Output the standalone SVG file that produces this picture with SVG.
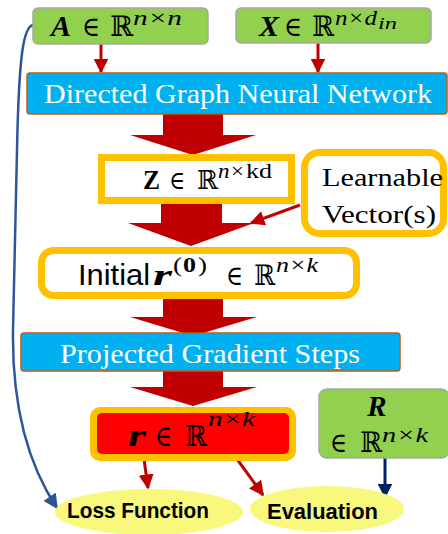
<svg xmlns="http://www.w3.org/2000/svg" width="448" height="534" viewBox="0 0 448 534">
  <defs>
    <style>
      .green { fill: #92D050; stroke: #A6A6A6; stroke-width: 1.5; }
      .blue { fill: #00B0F0; stroke: #C55A11; stroke-width: 1.5; }
      .gold { fill: #FFFFFF; stroke: #FFC000; stroke-width: 7; }
      .math { font-family: "Liberation Serif", "DejaVu Serif", serif; fill: #000000; }
      .bi { font-weight: bold; font-style: italic; }
      .it { font-style: italic; }
      .bb { font-family: "DejaVu Serif", serif; }
      .title { font-family: "Liberation Serif", "DejaVu Serif", serif; fill: #FFFFFF; font-size: 28px; }
      .big { fill: #C00000; }
      .thin { fill: none; stroke: #C00000; stroke-width: 3; }
      .oval { fill: #F8F87C; }
      .ovaltext { font-family: "Liberation Sans", Arial, sans-serif; font-weight: bold; font-size: 22px; fill: #000000; }
    </style>
    <marker id="head-red" viewBox="0 0 10 10" refX="9" refY="5" markerWidth="5" markerHeight="5" orient="auto">
      <path d="M0,0 L10,5 L0,10 Z" fill="#C00000"/>
    </marker>
    <marker id="head-blue" viewBox="0 0 10 10" refX="9" refY="5" markerWidth="6" markerHeight="6" orient="auto">
      <path d="M0,0 L10,5 L0,10 Z" fill="#2F5597"/>
    </marker>
    <marker id="head-navy" viewBox="0 0 10 10" refX="9" refY="5" markerWidth="5" markerHeight="5" orient="auto">
      <path d="M0,0 L10,5 L0,10 Z" fill="#002060"/>
    </marker>
  </defs>

  <!-- connectors -->
  <g id="connectors">
    <polygon class="big" points="163,112 223,112 223,135 256,135 193,155 130,135 163,135"/>
    <polygon class="big" points="161,200 222,200 222,223 254,223 191,246 128,223 161,223"/>
    <polygon class="big" points="163,297 223,297 223,317 257,317 193,336 130,317 163,317"/>
    <polygon class="big" points="163,369 223,369 223,387 257,387 193,406 130,387 163,387"/>
    <line class="thin" x1="101" y1="44" x2="101" y2="72" marker-end="url(#head-red)"/>
    <line class="thin" x1="318" y1="43" x2="318" y2="72" marker-end="url(#head-red)"/>
    <line class="thin" x1="300" y1="205" x2="251" y2="223" marker-end="url(#head-red)"/>
    <line class="thin" x1="144" y1="459" x2="148" y2="488" marker-end="url(#head-red)"/>
    <line class="thin" x1="237" y1="459" x2="263" y2="495" marker-end="url(#head-red)"/>
    <line x1="385" y1="458" x2="385" y2="497" stroke="#002060" stroke-width="3" marker-end="url(#head-navy)"/>
    <path d="M33,25 C24,27 19,50 17,150 L13,330 C12,400 25,460 57,508" fill="none" stroke="#2F5597" stroke-width="2.5" marker-end="url(#head-blue)"/>
  </g>

  <g id="node-A">
    <rect class="green" x="33" y="8" width="175" height="36" rx="5"/>
    <g class="math">
      <text class="bi" font-size="30" x="51" y="36" textLength="20" lengthAdjust="spacingAndGlyphs">A</text>
      <text font-size="28" x="82" y="36" textLength="18" lengthAdjust="spacingAndGlyphs">∈</text>
      <text class="bb" font-size="28" x="110" y="36" textLength="23" lengthAdjust="spacingAndGlyphs">ℝ</text>
      <text class="it" font-size="21" x="133" y="25" textLength="49" lengthAdjust="spacingAndGlyphs">n×n</text>
    </g>
  </g>

  <g id="node-X">
    <rect class="green" x="236" y="8" width="195" height="35" rx="5"/>
    <g class="math">
      <text class="bi" font-size="30" x="259" y="36" textLength="20" lengthAdjust="spacingAndGlyphs">X</text>
      <text font-size="28" x="284" y="36" textLength="18" lengthAdjust="spacingAndGlyphs">∈</text>
      <text class="bb" font-size="28" x="312" y="36" textLength="22" lengthAdjust="spacingAndGlyphs">ℝ</text>
      <text class="it" font-size="21" x="335" y="25" textLength="42" lengthAdjust="spacingAndGlyphs">n×d</text>
      <text class="it" font-size="16" x="378" y="29" textLength="19" lengthAdjust="spacingAndGlyphs">in</text>
    </g>
  </g>

  <g id="node-dgnn">
    <rect class="blue" x="27" y="73" width="420" height="41" rx="3"/>
    <text class="title" x="44" y="103" textLength="388" lengthAdjust="spacingAndGlyphs">Directed Graph Neural Network</text>
  </g>

  <g id="node-Z">
    <rect class="gold" x="101.5" y="157.5" width="190" height="43"/>
    <g class="math">
      <text font-weight="bold" font-size="27" x="143" y="189" textLength="17" lengthAdjust="spacingAndGlyphs">Z</text>
      <text font-size="26" x="169" y="189" textLength="16" lengthAdjust="spacingAndGlyphs">∈</text>
      <text class="bb" font-size="26" x="197" y="189" textLength="21" lengthAdjust="spacingAndGlyphs">ℝ</text>
      <text class="it" font-size="20" x="218" y="178" textLength="27" lengthAdjust="spacingAndGlyphs">n×</text>
      <text font-size="20" x="246" y="178" textLength="26" lengthAdjust="spacingAndGlyphs">kd</text>
    </g>
  </g>

  <g id="node-learnable">
    <rect class="gold" x="304.5" y="152.5" width="139" height="81" rx="15"/>
    <text class="math" font-size="26" x="322" y="186" textLength="121" lengthAdjust="spacingAndGlyphs">Learnable</text>
    <text class="math" font-size="26" x="322" y="223" textLength="114" lengthAdjust="spacingAndGlyphs">Vector(s)</text>
  </g>

  <g id="node-initial">
    <rect class="gold" x="41.5" y="250.5" width="315" height="45" rx="12"/>
    <text font-family="Liberation Sans, Arial, sans-serif" font-size="29" x="78" y="285" textLength="72" lengthAdjust="spacingAndGlyphs">Initial</text>
    <g class="math">
      <text class="bi" font-size="29" x="153" y="285" textLength="19" lengthAdjust="spacingAndGlyphs">r</text>
      <text font-size="21" x="173" y="272" textLength="9" lengthAdjust="spacingAndGlyphs">(</text>
      <text font-weight="bold" font-size="21" x="183" y="272" textLength="13" lengthAdjust="spacingAndGlyphs">0</text>
      <text font-size="21" x="198" y="272" textLength="9" lengthAdjust="spacingAndGlyphs">)</text>
      <text font-size="28" x="226" y="285" textLength="17" lengthAdjust="spacingAndGlyphs">∈</text>
      <text class="bb" font-size="28" x="254" y="285" textLength="21" lengthAdjust="spacingAndGlyphs">ℝ</text>
      <text class="it" font-size="21" x="276" y="272" textLength="42" lengthAdjust="spacingAndGlyphs">n×k</text>
    </g>
  </g>

  <g id="node-pgs">
    <rect class="blue" x="21" y="333" width="379" height="38" rx="3"/>
    <text class="title" x="60" y="363" textLength="300" lengthAdjust="spacingAndGlyphs">Projected Gradient Steps</text>
  </g>

  <g id="node-r">
    <rect x="90" y="407" width="206" height="54" rx="10" fill="#FFC000"/>
    <rect x="97" y="413" width="192" height="41" rx="5" fill="#FF0000"/>
    <g class="math">
      <text class="bi" font-size="31" x="128" y="446" textLength="18" lengthAdjust="spacingAndGlyphs">r</text>
      <text font-size="29" x="155" y="446" textLength="17" lengthAdjust="spacingAndGlyphs">∈</text>
      <text class="bb" font-size="29" x="185" y="446" textLength="22" lengthAdjust="spacingAndGlyphs">ℝ</text>
      <text class="it" font-size="22" x="208" y="426" textLength="47" lengthAdjust="spacingAndGlyphs">n×k</text>
    </g>
  </g>

  <g id="node-R">
    <rect class="green" x="319" y="389" width="130" height="69" rx="8"/>
    <g class="math">
      <text class="bi" font-size="29" x="377" y="416" text-anchor="middle">R</text>
      <text font-size="28" x="330" y="452" textLength="17" lengthAdjust="spacingAndGlyphs">∈</text>
      <text class="bb" font-size="28" x="360" y="452" textLength="22" lengthAdjust="spacingAndGlyphs">ℝ</text>
      <text class="it" font-size="21" x="382" y="442" textLength="46" lengthAdjust="spacingAndGlyphs">n×k</text>
    </g>
  </g>

  <g id="node-loss">
    <ellipse class="oval" cx="149" cy="512" rx="94" ry="23"/>
    <text class="ovaltext" x="67" y="518" textLength="142" lengthAdjust="spacingAndGlyphs">Loss Function</text>
  </g>

  <g id="node-eval">
    <ellipse class="oval" cx="327" cy="509" rx="77" ry="23"/>
    <text class="ovaltext" x="267" y="519" textLength="111" lengthAdjust="spacingAndGlyphs">Evaluation</text>
  </g>
</svg>
